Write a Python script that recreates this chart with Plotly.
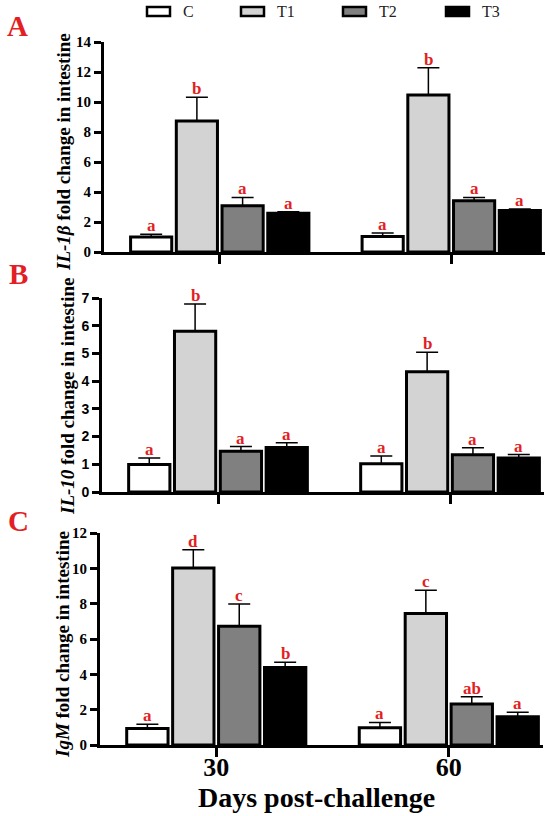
import plotly.graph_objects as go

# ---- data ----
days = ["30", "60"]
groups = ["C", "T1", "T2", "T3"]
fills = ["#ffffff", "#d3d3d3", "#808080", "#000000"]

il1b_mean = [[1.00, 1.04], [8.73, 10.47], [3.09, 3.41], [2.58, 2.77]]
il1b_sem = [[0.18, 0.22], [1.58, 1.82], [0.55, 0.23], [0.11, 0.09]]
il1b_sig = [["a", "a"], ["b", "b"], ["a", "a"], ["a", "a"]]

il10_mean = [[0.99, 1.02], [5.80, 4.34], [1.47, 1.34], [1.61, 1.23]]
il10_sem = [[0.24, 0.28], [0.98, 0.70], [0.17, 0.26], [0.17, 0.12]]
il10_sig = [["a", "a"], ["b", "b"], ["a", "a"], ["a", "a"]]

igm_mean = [[0.94, 0.98], [10.02, 7.44], [6.72, 2.32], [4.39, 1.60]]
igm_sem = [[0.23, 0.30], [1.03, 1.32], [1.26, 0.41], [0.30, 0.25]]
igm_sig = [["a", "a"], ["d", "c"], ["c", "ab"], ["b", "a"]]

SERIF = "Liberation Serif, Times New Roman, serif"
SANS = "Liberation Sans, Arial, sans-serif"
RED = "#e31e24"
W, H = 550, 816
BARGAP = 0.21


def px(x):
    return x / W


def py(y):
    return 1 - y / H


# pixel boxes of the three panels (left, right, top, bottom)
panels = [
    dict(mean=il1b_mean, sem=il1b_sem, sig=il1b_sig, ymax=14, dtick=2,
         box=(104, 545, 42, 252), tickfamily=SERIF, ticksize=15,
         letter="A", letter_xy=(17, 26), title_xy=(63, 152),
         title="<b><i>IL-1β</i> fold change in intestine</b>"),
    dict(mean=il10_mean, sem=il10_sem, sig=il10_sig, ymax=7, dtick=1,
         box=(102, 544, 298, 492), tickfamily=SANS, ticksize=14,
         letter="B", letter_xy=(18, 274), title_xy=(67, 397),
         title="<b><i>IL-10</i> fold change in intestine</b>"),
    dict(mean=igm_mean, sem=igm_sem, sig=igm_sig, ymax=12, dtick=2,
         box=(100, 543, 533, 745), tickfamily=SERIF, ticksize=15,
         letter="C", letter_xy=(18, 521), title_xy=(62, 645),
         title="<b><i>IgM</i> fold change in intestine</b>"),
]

fig = go.Figure()
slot = (1 - BARGAP) / len(groups)
annotations = []
shapes = []
axes = {}

for p_i, p in enumerate(panels):
    sfx = "" if p_i == 0 else str(p_i + 1)
    left, right, top, bottom = p["box"]
    for g_i, g in enumerate(groups):
        fig.add_trace(go.Bar(
            x=days, y=p["mean"][g_i], name=g,
            xaxis="x" + sfx, yaxis="y" + sfx,
            offsetgroup=g, showlegend=False,
            marker=dict(color=fills[g_i], line=dict(color="black", width=3)),
            error_y=dict(type="data", symmetric=False, array=p["sem"][g_i],
                         arrayminus=[0] * len(days), color="black",
                         thickness=1.5, width=11),
        ))
        off = -(1 - BARGAP) / 2 + slot * (g_i + 0.5)
        for d_i in range(len(days)):
            annotations.append(dict(
                x=d_i + off, y=p["mean"][g_i][d_i] + p["sem"][g_i][d_i],
                xref="x" + sfx, yref="y" + sfx,
                text="<b>%s</b>" % p["sig"][g_i][d_i],
                showarrow=False, yanchor="bottom", yshift=-3,
                font=dict(family=SERIF, size=17, color=RED),
            ))

    last = p_i == len(panels) - 1
    axes["xaxis" + sfx] = dict(
        domain=[px(left), px(right)], anchor="y" + sfx, type="category",
        range=[-0.5, 1.405], showline=True, linewidth=3, linecolor="black",
        ticks="outside", ticklen=9, tickwidth=3, tickcolor="black",
        showticklabels=last, ticklabelstandoff=-12,
        showgrid=False, zeroline=False,
        tickfont=dict(family=SERIF, size=26, color="black", weight="bold"),
    )
    axes["yaxis" + sfx] = dict(
        domain=[py(bottom), py(top)], anchor="x" + sfx,
        range=[0, p["ymax"]], dtick=p["dtick"],
        showline=True, linewidth=3, linecolor="black",
        ticks="outside", ticklen=7, tickwidth=2.5, tickcolor="black",
        showgrid=False, zeroline=False,
        tickfont=dict(family=p["tickfamily"], size=p["ticksize"], color="black",
                      weight="bold"),
    )
    annotations.append(dict(
        x=px(p["title_xy"][0]), y=py(p["title_xy"][1]), xref="paper", yref="paper",
        xanchor="center", yanchor="middle",
        text=p["title"], textangle=-90, showarrow=False,
        font=dict(family=SERIF, size=19, color="black"),
    ))
    annotations.append(dict(
        x=px(p["letter_xy"][0]), y=py(p["letter_xy"][1]), xref="paper", yref="paper",
        xanchor="center", yanchor="middle",
        text="<b>%s</b>" % p["letter"], showarrow=False,
        font=dict(family=SERIF, size=29, color=RED),
    ))

# legend row along the top (drawn by hand: wide boxes, tight to the page edge)
legend_box_x = [147, 241, 343, 446]
for g_i, g in enumerate(groups):
    x0 = legend_box_x[g_i]
    shapes.append(dict(
        type="rect", xref="paper", yref="paper",
        x0=px(x0), x1=px(x0 + 23), y0=py(16), y1=py(7),
        fillcolor=fills[g_i], line=dict(color="black", width=2.5),
    ))
    annotations.append(dict(
        x=px(x0 + 34), y=py(12), xref="paper", yref="paper",
        xanchor="left", yanchor="middle", text=g, showarrow=False,
        font=dict(family=SERIF, size=16, color="#222222"),
    ))

annotations.append(dict(
    x=px(316), y=py(797), xref="paper", yref="paper",
    xanchor="center", yanchor="middle",
    text="<b>Days post-challenge</b>", showarrow=False,
    font=dict(family=SERIF, size=28, color="black"),
))

fig.update_layout(
    template="none",
    width=W, height=H,
    margin=dict(l=0, r=0, t=0, b=0),
    paper_bgcolor="white", plot_bgcolor="white",
    barmode="group", bargap=BARGAP, bargroupgap=0.1,
    showlegend=False,
    annotations=annotations,
    shapes=shapes,
    **axes,
)

# the default page body has an 8 px margin; drop it so the figure fills the window
fig.write_html("out.html", config={"displayModeBar": False},
               post_script="document.body.style.margin = '0';")
